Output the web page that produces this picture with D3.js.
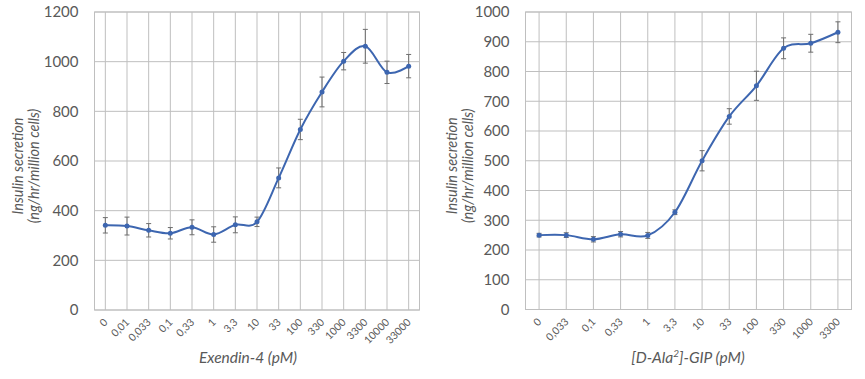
<!DOCTYPE html>
<html><head><meta charset="utf-8">
<script src="https://cdn.jsdelivr.net/npm/d3@7"></script>
<style>body{margin:0;background:#fff}svg{display:block}</style>
</head><body>
<svg id="c" width="865" height="379"></svg>
<script>
// Left panel: Exendin-4
const exCategories = ["0","0,01","0,033","0,1","0,33","1","3,3","10","33","100","330","1000","3300","10000","33000"];
const exValues = [341, 338, 321, 309, 333, 304, 343, 355, 532, 727, 878, 1002, 1062, 957, 982];
const exErrors = [31, 36, 27, 23, 30, 31, 32, 19, 40, 41, 60, 35, 68, 45, 47];
const exTicks = [0, 200, 400, 600, 800, 1000, 1200];

// Right panel: [D-Ala2]-GIP
const gipCategories = ["0","0,033","0,1","0,33","1","3,3","10","33","100","330","1000","3300"];
const gipValues = [250, 250, 236, 253, 249, 327, 500, 649, 752, 878, 895, 932];
const gipErrors = [6, 8, 9, 9, 10, 8, 34, 26, 49, 35, 30, 35];
const gipTicks = [0, 100, 200, 300, 400, 500, 600, 700, 800, 900, 1000];

const svg = d3.select("#c");
const FONT = "Lato, 'Open Sans', sans-serif";
const TXT = "#595959", GRID = "#bfbfbf", BLUE = "#3d66b0", ERR = "#6e6e6e";

function panel(o) {
  const g = svg.append("g");
  const x = d3.scalePoint().domain(o.cats).range([o.x0, o.x1]).padding(0.5);
  const y = d3.scaleLinear().domain([0, o.ymax]).range([o.y0, o.y1]);
  // vertical grid at categories
  g.selectAll(".vg").data(o.cats).join("line")
    .attr("x1", d => x(d)).attr("x2", d => x(d))
    .attr("y1", o.y1).attr("y2", o.y0)
    .attr("stroke", GRID).attr("stroke-width", 1);
  // horizontal grid
  g.selectAll(".hg").data(o.ticks).join("line")
    .attr("x1", o.x0).attr("x2", o.x1)
    .attr("y1", d => y(d)).attr("y2", d => y(d))
    .attr("stroke", GRID).attr("stroke-width", 1);
  // border
  g.append("rect").attr("x", o.x0).attr("y", o.y1).attr("width", o.x1 - o.x0).attr("height", o.y0 - o.y1)
    .attr("fill", "none").attr("stroke", GRID).attr("stroke-width", 1);
  // y tick labels
  g.selectAll(".yl").data(o.ticks).join("text")
    .attr("x", o.x0 - 16).attr("y", d => y(d)).attr("dy", "0.36em")
    .attr("text-anchor", "end").attr("font-family", FONT).attr("font-size", 15)
    .attr("fill", TXT).text(d => d);
  // x tick labels
  g.selectAll(".xl").data(o.cats).join("text")
    .attr("transform", d => `translate(${x(d) + 3},${o.y0 + 13}) rotate(-45)`)
    .attr("text-anchor", "end").attr("font-family", FONT).attr("font-size", 10.5)
    .attr("fill", TXT).text(d => d);
  // axis titles
  const xt = g.append("text").attr("x", o.xtX).attr("y", o.y0 + 53)
    .attr("text-anchor", "middle").attr("font-family", FONT).attr("font-size", 15.5)
    .attr("font-style", "italic").attr("fill", TXT);
  o.xtitle(xt);
  const yt = g.append("text").attr("transform", `translate(${o.ytX},${(o.y0 + o.y1) / 2 + 5}) rotate(-90)`)
    .attr("text-anchor", "middle").attr("font-family", FONT).attr("font-size", 14.5)
    .attr("font-style", "italic").attr("fill", TXT);
  yt.append("tspan").attr("x", 0).attr("dy", 0).text("Insulin secretion");
  yt.append("tspan").attr("x", 0).attr("dy", 15.5).text("(ng/hr/million cells)");
  // error bars
  const data = o.cats.map((c, i) => ({c, v: o.vals[i], e: o.errs[i]}));
  const eg = g.selectAll(".eb").data(data).join("g");
  eg.append("line").attr("x1", d => x(d.c)).attr("x2", d => x(d.c))
    .attr("y1", d => y(d.v - d.e)).attr("y2", d => y(d.v + d.e))
    .attr("stroke", ERR).attr("stroke-width", 1);
  [-1, 1].forEach(s => {
    eg.append("line").attr("x1", d => x(d.c) - 2.5).attr("x2", d => x(d.c) + 2.5)
      .attr("y1", d => y(d.v + s * d.e)).attr("y2", d => y(d.v + s * d.e))
      .attr("stroke", ERR).attr("stroke-width", 1);
  });
  // line
  const line = d3.line().x(d => x(d.c)).y(d => y(d.v)).curve(d3.curveCardinal.tension(0));
  g.append("path").datum(data).attr("d", line).attr("fill", "none")
    .attr("stroke", BLUE).attr("stroke-width", 2);
  g.selectAll(".pt").data(data).join("circle")
    .attr("cx", d => x(d.c)).attr("cy", d => y(d.v)).attr("r", 2.5).attr("fill", BLUE);
}

panel({cats: exCategories, vals: exValues, errs: exErrors, ticks: exTicks, ymax: 1200,
  x0: 94.5, x1: 419.5, y0: 310, y1: 12, xtX: 248, ytX: 23,
  xtitle: t => t.text("Exendin-4 (pM)")});
panel({cats: gipCategories, vals: gipValues, errs: gipErrors, ticks: gipTicks, ymax: 1000,
  x0: 525.5, x1: 851.5, y0: 309.5, y1: 12, xtX: 688, ytX: 457,
  xtitle: t => { t.append("tspan").text("[D-Ala");
    t.append("tspan").attr("font-size", 10).attr("dy", -6).text("2");
    t.append("tspan").attr("dy", 6).text("]-GIP (pM)"); }});
</script>
</body></html>
